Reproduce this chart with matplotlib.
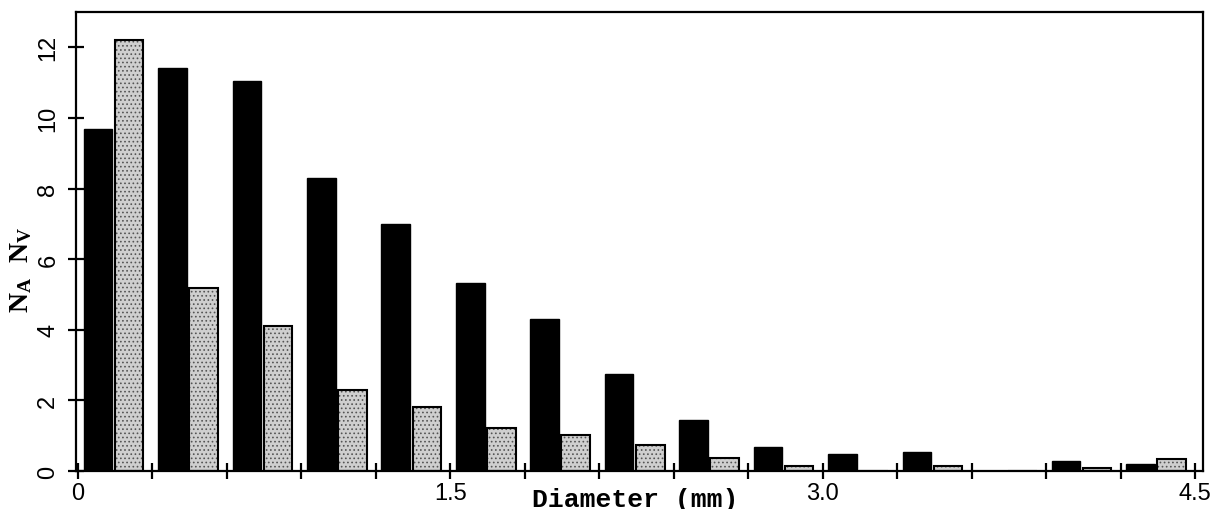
import matplotlib as mpl
import matplotlib.pyplot as plt
import numpy as np

# size classes, 0.3 mm wide, from 0 to 4.5 mm
BIN_STARTS = [0.0, 0.3, 0.6, 0.9, 1.2, 1.5, 1.8, 2.1, 2.4, 2.7, 3.0, 3.3, 3.6, 3.9, 4.2]
N_A = [9.7, 11.4, 11.05, 8.3, 7.0, 5.33, 4.3, 2.75, 1.44, 0.68, 0.47, 0.55, 0.0, 0.29, 0.19]
N_V = [12.22, 5.17, 4.12, 2.29, 1.8, 1.23, 1.03, 0.75, 0.36, 0.14, 0.0, 0.14, 0.0, 0.08, 0.35]
X_TICKS = [0.0, 0.3, 0.6, 0.9, 1.2, 1.5, 1.8, 2.1, 2.4, 2.7, 3.0, 3.3, 3.6, 3.9, 4.2, 4.5]
X_LABELS = ["0", "", "", "", "", "1.5", "", "", "", "", "3.0", "", "", "", "", "4.5"]
Y_TICKS = [0, 2, 4, 6, 8, 10, 12]

mpl.rcParams.update(
    {
        "font.family": "Liberation Sans",
        "font.size": 17,
        "axes.linewidth": 1.6,
        "hatch.linewidth": 0.7,
        "mathtext.fontset": "custom",
        "mathtext.rm": "Liberation Serif",
        "mathtext.it": "Liberation Serif",
        "mathtext.bf": "Liberation Serif:bold",
    }
)
STIPPLE = "#cfcfcf"


def main():
    x = np.array(BIN_STARTS)
    w = 0.115

    fig = plt.figure(figsize=(12.16, 5.10), dpi=100)
    ax = fig.add_axes([0.0625, 0.0745, 0.9265, 0.9])

    ax.bar(x + 0.08, N_A, width=w, color="black", edgecolor="black", lw=1.0)
    # stippled bars: dotted fill, then a crisp black outline
    ax.bar(
        x + 0.205, N_V, width=w, color=STIPPLE, edgecolor="#555555",
        hatch="....", lw=0,
    )
    ax.bar(x + 0.205, N_V, width=w, fill=False, edgecolor="black", lw=1.5)

    ax.set_xlim(-0.008, 4.53)
    ax.set_ylim(0, 13)
    ax.set_xticks(X_TICKS)
    ax.set_xticklabels(X_LABELS)
    ax.set_yticks(Y_TICKS)
    ax.set_yticklabels([str(v) for v in Y_TICKS], rotation=90, va="center")
    ax.tick_params(axis="both", direction="inout", length=12, width=1.6, pad=2)
    ax.tick_params(axis="y", pad=6)

    ax.set_xlabel(
        "Diameter (mm)", family="Liberation Mono", fontweight="bold", fontsize=19
    )
    ax.xaxis.set_label_coords(0.496, -0.035)
    ax.set_ylabel(r"$\mathbf{N_A}$  $\mathbf{N_V}$", fontsize=20)
    ax.yaxis.set_label_coords(-0.037, 0.44)

    fig.savefig("out.png", dpi=100)


if __name__ == "__main__":
    main()
